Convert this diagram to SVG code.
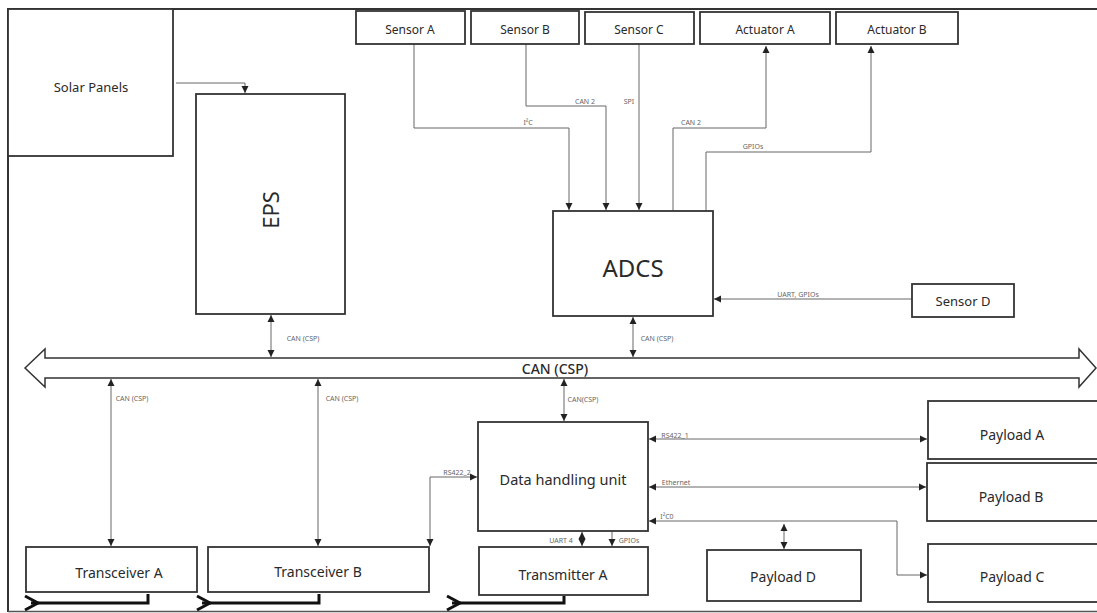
<svg xmlns="http://www.w3.org/2000/svg" width="1097" height="613" viewBox="0 0 1097 613">
<defs>
<marker id="arr" markerUnits="userSpaceOnUse" markerWidth="8" markerHeight="8" refX="7" refY="4" orient="auto-start-reverse">
<path d="M0,0.5 L7,4 L0,7.5 z" fill="#222"/>
</marker>
</defs>
<style>
.box{fill:#fff;stroke:#333;stroke-width:1.8}
.lbl{font-family:"Noto Sans","DejaVu Sans",sans-serif;fill:#2a2a2a;text-anchor:middle;dominant-baseline:central}
.sm{font-family:"Noto Sans","DejaVu Sans",sans-serif;fill:#666;font-size:7px;text-anchor:middle}
.con{fill:none;stroke:#666;stroke-width:1}
.ant{fill:none;stroke:#111;stroke-width:3}
</style>
<rect width="1097" height="613" fill="#fff"/>
<path d="M8,612 L8,9 L1097,9" fill="none" stroke="#333" stroke-width="2"/>
<path d="M8,611.5 L1097,611.5" fill="none" stroke="#555" stroke-width="1.5"/>

<g id="connectors">
<path class="con" d="M176,83 L245,83 L245,93" marker-end="url(#arr)"/>
<path class="con" d="M414,44 L414,128 L569,128 L569,210" marker-end="url(#arr)"/>
<path class="con" d="M526,44 L526,106 L606,106 L606,210" marker-end="url(#arr)"/>
<path class="con" d="M639,44 L639,210" marker-end="url(#arr)"/>
<path class="con" d="M673,211 L673,128 L766,128 L766,46" marker-end="url(#arr)"/>
<path class="con" d="M706,211 L706,152 L871,152 L871,46" marker-end="url(#arr)"/>
<path class="con" d="M912,299 L714,299" marker-end="url(#arr)"/>
<path class="con" d="M633,317 L633,357" marker-start="url(#arr)" marker-end="url(#arr)"/>
<path class="con" d="M271,315 L271,357" marker-start="url(#arr)" marker-end="url(#arr)"/>
<path class="con" d="M111,379 L111,546" marker-start="url(#arr)" marker-end="url(#arr)"/>
<path class="con" d="M318,379 L318,546" marker-start="url(#arr)" marker-end="url(#arr)"/>
<path class="con" d="M564,379 L564,421" marker-start="url(#arr)" marker-end="url(#arr)"/>
<path class="con" d="M430,546 L430,477 L477,477" marker-start="url(#arr)" marker-end="url(#arr)"/>
<path class="con" d="M649,439 L927,439" marker-start="url(#arr)" marker-end="url(#arr)"/>
<path class="con" d="M649,487 L926,487" marker-start="url(#arr)" marker-end="url(#arr)"/>
<path class="con" d="M649,521 L897,521 L897,575 L927,575" marker-start="url(#arr)" marker-end="url(#arr)"/>
<path class="con" d="M784,524 L784,549" marker-start="url(#arr)" marker-end="url(#arr)"/>
<path class="con" d="M582,532 L582,546" stroke-width="1.5" marker-start="url(#arr)" marker-end="url(#arr)"/>
<path class="con" d="M612,531 L612,546" marker-end="url(#arr)"/>
<text class="sm" x="528" y="125">I²C</text>
<text class="sm" x="585" y="104">CAN 2</text>
<text class="sm" x="629" y="104">SPI</text>
<text class="sm" x="691" y="125">CAN 2</text>
<text class="sm" x="753" y="149">GPIOs</text>
<text class="sm" x="798" y="297">UART, GPIOs</text>
<text class="sm" x="657" y="341">CAN (CSP)</text>
<text class="sm" x="303" y="341">CAN (CSP)</text>
<text class="sm" x="132" y="401">CAN (CSP)</text>
<text class="sm" x="342" y="401">CAN (CSP)</text>
<text class="sm" x="583" y="402">CAN(CSP)</text>
<text class="sm" x="457" y="475">RS422_2</text>
<text class="sm" x="675" y="438">RS422_1</text>
<text class="sm" x="676" y="485">Ethernet</text>
<text class="sm" x="667" y="519">I²C0</text>
<text class="sm" x="561" y="543">UART 4</text>
<text class="sm" x="629" y="543">GPIOs</text>
</g>

<g id="can-bus">
<polygon points="25,368 45,349 45,358 1079,358 1079,349 1096,368 1079,387 1079,378 45,378 45,387" fill="#fff" stroke="#333" stroke-width="1.5"/>
<text class="lbl" x="555" y="368" font-size="14" font-weight="500">CAN (CSP)</text>
</g>

<g id="solar-panels">
<rect class="box" x="8" y="9" width="165" height="147"/>
<text class="lbl" x="91" y="87" font-size="13">Solar Panels</text>
</g>
<g id="eps">
<rect class="box" x="196" y="94" width="149" height="220"/>
<text class="lbl" x="270" y="210" font-size="22" transform="rotate(-90 270 210)">EPS</text>
</g>
<g id="sensor-a">
<rect class="box" x="356" y="11" width="109" height="33"/>
<text class="lbl" x="410" y="29" font-size="12">Sensor A</text>
</g>
<g id="sensor-b">
<rect class="box" x="471" y="11" width="108" height="33"/>
<text class="lbl" x="525" y="29" font-size="12">Sensor B</text>
</g>
<g id="sensor-c">
<rect class="box" x="585" y="12" width="109" height="32"/>
<text class="lbl" x="639" y="29" font-size="12">Sensor C</text>
</g>
<g id="actuator-a">
<rect class="box" x="700" y="12" width="130" height="32"/>
<text class="lbl" x="765" y="29" font-size="12">Actuator A</text>
</g>
<g id="actuator-b">
<rect class="box" x="836" y="12" width="122" height="32"/>
<text class="lbl" x="897" y="29" font-size="12">Actuator B</text>
</g>
<g id="adcs">
<rect class="box" x="553" y="211" width="160" height="105"/>
<text class="lbl" x="633" y="267" font-size="24">ADCS</text>
</g>
<g id="sensor-d">
<rect class="box" x="912" y="284" width="102" height="33"/>
<text class="lbl" x="963" y="301" font-size="13">Sensor D</text>
</g>
<g id="transceiver-a">
<rect class="box" x="26" y="547" width="171" height="45"/>
<text class="lbl" x="119" y="572" font-size="14">Transceiver A</text>
<path class="ant" d="M148,594 L148,603 L31,603"/>
<path class="ant" d="M25,596 L38,603 L25,610" stroke-width="2.5"/>
</g>
<g id="transceiver-b">
<rect class="box" x="208" y="547" width="221" height="45"/>
<text class="lbl" x="318" y="571" font-size="14">Transceiver B</text>
<path class="ant" d="M319,594 L319,603 L202,603"/>
<path class="ant" d="M197,596 L210,603 L197,610" stroke-width="2.5"/>
</g>
<g id="data-handling-unit">
<rect class="box" x="478" y="422" width="170" height="109"/>
<text class="lbl" x="563" y="479" font-size="14.5">Data handling unit</text>
</g>
<g id="transmitter-a">
<rect class="box" x="479" y="547" width="169" height="48"/>
<text class="lbl" x="563" y="574" font-size="14">Transmitter A</text>
<path class="ant" d="M564,596 L564,603 L452,603"/>
<path class="ant" d="M447,596 L460,603 L447,610" stroke-width="2.5"/>
</g>
<g id="payload-a">
<rect class="box" x="928" y="401" width="172" height="58"/>
<text class="lbl" x="1012" y="434" font-size="14">Payload A</text>
</g>
<g id="payload-b">
<rect class="box" x="927" y="463" width="173" height="58"/>
<text class="lbl" x="1011" y="496" font-size="14">Payload B</text>
</g>
<g id="payload-c">
<rect class="box" x="928" y="544" width="172" height="58"/>
<text class="lbl" x="1012" y="576" font-size="14">Payload C</text>
</g>
<g id="payload-d">
<rect class="box" x="707" y="550" width="154" height="51"/>
<text class="lbl" x="783" y="576" font-size="14">Payload D</text>
</g>
</svg>
